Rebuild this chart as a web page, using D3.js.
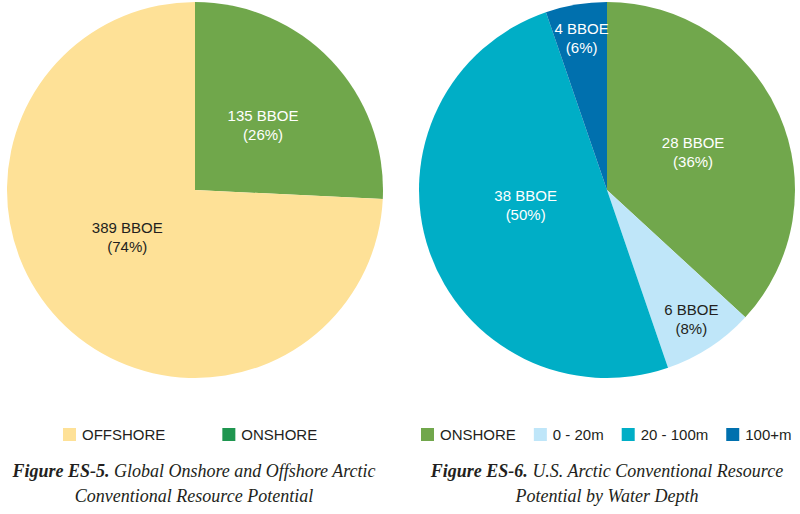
<!DOCTYPE html>
<html>
<head>
<meta charset="utf-8">
<script src="https://cdn.jsdelivr.net/npm/d3@7"></script>
<style>
	body { margin: 0; background: #fff; }
	text { font-family: "Liberation Sans", Arial, sans-serif; }
	.caption { font-family: "Liberation Serif", "Times New Roman", serif; font-style: italic; fill: #231f20; }
</style>
</head>
<body>
<div id="chart-area"></div>
<script>
// Figure ES-5 data
var globalNames = ["ONSHORE", "OFFSHORE"];
var globalValues = [135, 389];
var globalPct = ["26%", "74%"];
var globalColors = ["#70a74b", "#fee197"];
var globalLegend = ["OFFSHORE", "ONSHORE"];
var globalLegendColors = ["#fee197", "#1f9650"];

// Figure ES-6 data
var usNames = ["ONSHORE", "0 - 20m", "20 - 100m", "100+m"];
var usValues = [28, 6, 38, 4];
var usPct = ["36%", "8%", "50%", "6%"];
var usColors = ["#71a74c", "#bfe6f9", "#00aec6", "#0070ae"];

var width = 800, height = 514;
var radius = 188;

var svg = d3.select("#chart-area")
	.append("svg")
		.attr("width", width)
		.attr("height", height);

var pie = d3.pie().sort(null).value(function(d){ return d.value; });
var arc = d3.arc().innerRadius(0).outerRadius(radius);

function drawPie(cx, cy, names, values, pct, colors, darkText) {
	var data = names.map(function(n, i){
		return { name: n, value: values[i], pct: pct[i], color: colors[i] };
	});
	var g = svg.append("g")
		.attr("transform", "translate(" + cx + ", " + cy + ")");

	var arcs = pie(data);

	g.selectAll("path")
		.data(arcs)
		.enter()
		.append("path")
			.attr("d", arc)
			.attr("fill", function(d){ return d.data.color; });

	//labels: small slices sit near the rim, big ones nearer the middle,
	//half-pie slices get nudged clockwise a bit (like the original layout)
	var labels = g.selectAll("g.lbl")
		.data(arcs)
		.enter()
		.append("g")
			.attr("class", "lbl")
			.attr("transform", function(d){
				var share = (d.endAngle - d.startAngle) / (2 * Math.PI);
				var r = radius * 0.5, shift = 0;
				if (share < 0.1) r = radius * 0.82;
				else if (share >= 0.45) { r = radius * 0.44; shift = 0.15; }
				var a = (d.startAngle + d.endAngle) / 2 + shift;
				return "translate(" + (r * Math.sin(a)) + ", " + (-r * Math.cos(a)) + ")";
			});

	labels.append("text")
		.attr("y", -4)
		.attr("text-anchor", "middle")
		.attr("font-size", 15)
		.attr("fill", function(d){ return darkText.indexOf(d.data.name) >= 0 ? "#231f20" : "#fff"; })
		.text(function(d){ return d.data.value + " BBOE"; });

	labels.append("text")
		.attr("y", 15)
		.attr("text-anchor", "middle")
		.attr("font-size", 15)
		.attr("fill", function(d){ return darkText.indexOf(d.data.name) >= 0 ? "#231f20" : "#fff"; })
		.text(function(d){ return "(" + d.data.pct + ")"; });
}

drawPie(195, 190, globalNames, globalValues, globalPct, globalColors, ["OFFSHORE"]);
drawPie(607, 190, usNames, usValues, usPct, usColors, ["0 - 20m"]);

//legends
function drawLegend(x0, y0, names, colors, gap) {
	var legend = svg.append("g")
		.attr("transform", "translate(" + x0 + ", " + y0 + ")");
	var x = 0;
	names.forEach(function(name, i){
		var row = legend.append("g")
			.attr("transform", "translate(" + x + ", 0)");
		row.append("rect")
			.attr("width", 13)
			.attr("height", 13)
			.attr("fill", colors[i]);
		var t = row.append("text")
			.attr("x", 19)
			.attr("y", 12)
			.attr("font-size", 15)
			.attr("fill", "#231f20")
			.text(name);
		x += 19 + t.node().getComputedTextLength() + gap[i];
	});
}

drawLegend(63, 428, globalLegend, globalLegendColors, [57, 0]);
drawLegend(421, 428, usNames, usColors, [18, 18, 18, 0]);

//captions
function caption(cx, bold, rest1, line2) {
	var t1 = svg.append("text")
		.attr("class", "caption")
		.attr("x", cx)
		.attr("y", 477)
		.attr("text-anchor", "middle")
		.attr("font-size", 18);
	t1.append("tspan").attr("font-weight", "bold").text(bold);
	t1.append("tspan").text(" " + rest1);
	svg.append("text")
		.attr("class", "caption")
		.attr("x", cx)
		.attr("y", 502)
		.attr("text-anchor", "middle")
		.attr("font-size", 18)
		.text(line2);
}

caption(194, "Figure ES-5.", "Global Onshore and Offshore Arctic", "Conventional Resource Potential");
caption(607, "Figure ES-6.", "U.S. Arctic Conventional Resource", "Potential by Water Depth");
</script>
</body>
</html>
